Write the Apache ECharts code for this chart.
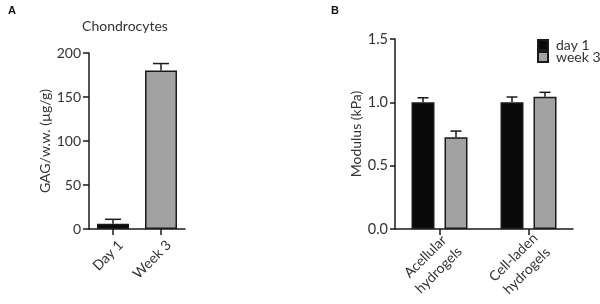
<!DOCTYPE html>
<html>
<head>
<meta charset="utf-8">
<script src="https://cdn.jsdelivr.net/npm/echarts@6/dist/echarts.min.js"></script>
<style>
  html, body { margin: 0; padding: 0; background: #fff; }
  #chart { width: 600px; height: 304px; }
</style>
</head>
<body>
<div id="chart"></div>
<script>
// panel A - chondrocytes GAG content
var gagCats = ['Day 1', 'Week 3'];
var gagMean = [6, 180];
var gagErr = [5, 8];
var gagTicks = [0, 50, 100, 150, 200];

// panel B - hydrogel modulus
var gelCats = ['Acellular\nhydrogels', 'Cell-laden\nhydrogels'];
var day1Mean = [1.0, 1.0];
var day1Err = [0.036, 0.042];
var week3Mean = [0.725, 1.045];
var week3Err = [0.048, 0.034];
var modTicks = [0, 0.5, 1.0, 1.5];

var FONT = 'Lato';
var TXT = '#333333';
var AX = '#1a1a1a';
var BLACK = '#0a0a0a';
var GREY = '#a2a2a2';

var barW_B = 23, gapB = 10;

function errItem(offset, capHalf) {
  return function (params, api) {
    var i = api.value(0);
    var m = api.coord([i, api.value(1)]);
    var t = api.coord([i, api.value(1) + api.value(2)]);
    var x = m[0] + offset;
    return {
      type: 'group',
      children: [
        { type: 'line', shape: { x1: x, y1: m[1], x2: x, y2: t[1] }, style: { stroke: AX, lineWidth: 1.5 } },
        { type: 'line', shape: { x1: x - capHalf, y1: t[1], x2: x + capHalf, y2: t[1] }, style: { stroke: AX, lineWidth: 1.5 } }
      ]
    };
  };
}

function errData(means, errs) {
  return means.map(function (v, i) { return [i, v, errs[i]]; });
}

function axisCommon() {
  return {
    axisLine: { show: true, lineStyle: { color: AX, width: 1.5 } },
    axisTick: { show: true, length: 5, lineStyle: { color: AX, width: 1.5 } },
    splitLine: { show: false }
  };
}

// centre each line of a two-line category label
function centredLines(v) {
  return v.split('\n').map(function (s) { return '{c|' + s + '}'; }).join('\n');
}

var chart = echarts.init(document.getElementById('chart'));
var option = {
  animation: false,
  textStyle: { fontFamily: FONT },
  title: [
    { text: 'A', left: 3, top: 0, textStyle: { fontSize: 11, fontWeight: 'bold', color: '#111', fontFamily: 'Liberation Sans' } },
    { text: 'B', left: 326, top: 0, textStyle: { fontSize: 11, fontWeight: 'bold', color: '#111', fontFamily: 'Liberation Sans' } },
    { text: 'Chondrocytes', left: 120, top: 14, textAlign: 'center', textStyle: { fontSize: 14, fontWeight: 'normal', color: TXT, fontFamily: FONT } }
  ],
  legend: {
    data: ['day 1', 'week 3'],
    orient: 'vertical',
    left: 537, top: 38, padding: 0,
    icon: 'rect',
    itemWidth: 10, itemHeight: 10, itemGap: -2,
    textStyle: { fontSize: 14, color: TXT, fontFamily: FONT, padding: [0, 0, 0, 3] }
  },
  grid: [
    { left: 89, top: 53, width: 96, height: 176 },
    { left: 395, top: 39, width: 178, height: 190 }
  ],
  xAxis: [
    Object.assign(axisCommon(), {
      type: 'category', gridIndex: 0, data: gagCats,
      axisTick: { show: true, alignWithLabel: true, length: 6, lineStyle: { color: AX, width: 1.5 } },
      axisLabel: { rotate: 45, fontSize: 14, color: TXT, margin: 6, interval: 0, verticalAlign: 'top', padding: [4, 0, 0, 0] }
    }),
    Object.assign(axisCommon(), {
      type: 'category', gridIndex: 1, data: gelCats,
      axisTick: { show: true, alignWithLabel: true, length: 6, lineStyle: { color: AX, width: 1.5 } },
      axisLabel: {
        rotate: 45, fontSize: 14, color: TXT, margin: 0, interval: 0, verticalAlign: 'top',
        formatter: centredLines,
        rich: { c: { fontSize: 14, color: TXT, fontFamily: FONT, align: 'center', lineHeight: 19 } }
      }
    })
  ],
  yAxis: [
    Object.assign(axisCommon(), {
      type: 'value', gridIndex: 0,
      min: gagTicks[0], max: gagTicks[gagTicks.length - 1], interval: gagTicks[1] - gagTicks[0],
      name: 'GAG/w.w. (µg/g)', nameLocation: 'middle', nameGap: 37,
      nameTextStyle: { fontSize: 14, color: TXT },
      axisTick: { show: true, length: 6, lineStyle: { color: AX, width: 1.5 } },
      axisLabel: { fontSize: 14, color: TXT, margin: 8 }
    }),
    Object.assign(axisCommon(), {
      type: 'value', gridIndex: 1,
      min: modTicks[0], max: modTicks[modTicks.length - 1], interval: modTicks[1] - modTicks[0],
      name: 'Modulus (kPa)', nameLocation: 'middle', nameGap: 31,
      nameTextStyle: { fontSize: 14, color: TXT },
      axisTick: { show: true, length: 5, lineStyle: { color: AX, width: 1.5 } },
      axisLabel: { fontSize: 14.5, color: TXT, margin: 7, formatter: function (v) { return v.toFixed(1); } }
    })
  ],
  series: [
    {
      type: 'bar', xAxisIndex: 0, yAxisIndex: 0, barWidth: 32,
      data: gagMean.map(function (v, i) {
        return { value: v, itemStyle: { color: i === 0 ? BLACK : GREY } };
      }),
      itemStyle: { borderColor: AX, borderWidth: 1.5 }
    },
    {
      type: 'custom', xAxisIndex: 0, yAxisIndex: 0,
      renderItem: errItem(0, 8), data: errData(gagMean, gagErr), z: 3
    },
    {
      name: 'day 1', type: 'bar', xAxisIndex: 1, yAxisIndex: 1,
      barWidth: barW_B, barGap: (gapB / barW_B * 100) + '%',
      data: day1Mean,
      itemStyle: { color: BLACK, borderColor: AX, borderWidth: 1.5 }
    },
    {
      name: 'week 3', type: 'bar', xAxisIndex: 1, yAxisIndex: 1,
      barWidth: barW_B, barGap: (gapB / barW_B * 100) + '%',
      data: week3Mean,
      itemStyle: { color: GREY, borderColor: AX, borderWidth: 1.5 }
    },
    {
      type: 'custom', xAxisIndex: 1, yAxisIndex: 1,
      renderItem: errItem(-(barW_B + gapB) / 2, 5.5), data: errData(day1Mean, day1Err), z: 3
    },
    {
      type: 'custom', xAxisIndex: 1, yAxisIndex: 1,
      renderItem: errItem((barW_B + gapB) / 2, 5.5), data: errData(week3Mean, week3Err), z: 3
    }
  ]
};
chart.setOption(option);
</script>
</body>
</html>
